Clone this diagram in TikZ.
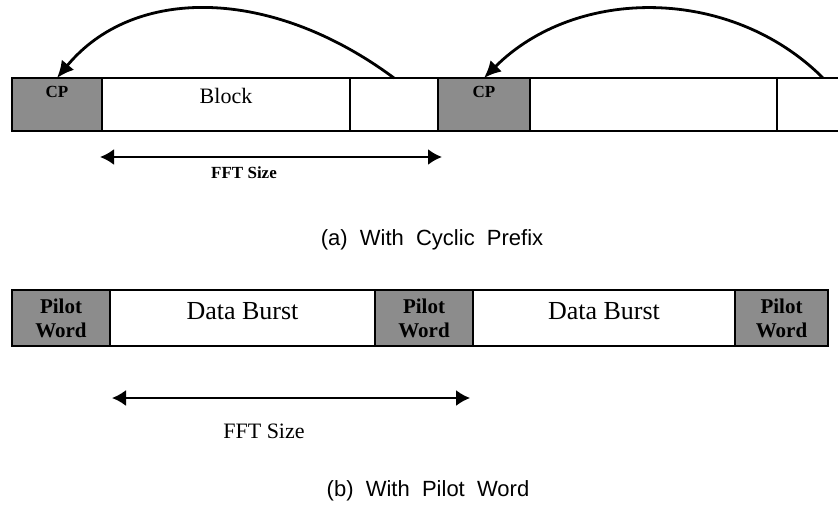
\documentclass[tikz,border=0pt]{standalone}
\usepackage{fontspec}
\setmainfont{Liberation Serif}
\newfontfamily\capfont{Liberation Sans}
\usetikzlibrary{positioning,arrows.meta}
\tikzset{>={Latex[length=17pt,width=16pt]}}

\begin{document}
\begin{tikzpicture}[x=1pt,y=-1pt,%
                    cell/.style={draw,line width=1.4pt,inner sep=0,outer sep=0,minimum height=53pt},
                    shaded/.style={cell,fill=black!45},
                    celltext/.style={font=\fontsize{22}{24}\selectfont},
                    burst/.style={font=\fontsize{26}{28}\selectfont},
                    pilot/.style={font=\bfseries\fontsize{21}{24}\selectfont,align=center},
                    caption/.style={font=\capfont\fontsize{22}{24}\selectfont},
                    hop/.style={->,line width=2.8pt},
                    span/.style={<->,line width=2.2pt,>={Latex[length=14pt,width=16pt]}},
        ]
        \useasboundingbox (0,0) rectangle (838,508);
        \clip (0,0) rectangle (838,508);
%
        % (a) cyclic prefix
        \node[shaded,minimum width=90pt,anchor=north west] (cpa) at (12,78) {};
        \node[cell,minimum width=248pt,right=0pt of cpa] (blocka) {};
        \node[cell,minimum width=88pt,right=0pt of blocka] (taila) {};
        \node[shaded,minimum width=92pt,right=0pt of taila] (cpb) {};
        \node[cell,minimum width=247pt,right=0pt of cpb] (blockb) {};
        \node[cell,minimum width=92pt,right=0pt of blockb] (tailb) {};
        \node[font=\bfseries\fontsize{17}{19}\selectfont] at ([yshift=13pt]cpa.center) {CP};
        \node[font=\bfseries\fontsize{17}{19}\selectfont] at ([yshift=13pt]cpb.center) {CP};
        \node[celltext] at ([yshift=9pt]blocka.center) {Block};
%
        \draw[hop] (taila.north) .. controls +(-124,-92) and +(76,-92) .. (cpa.north);
        \draw[hop] (tailb.north) .. controls +(-92,-92) and +(92,-92) .. (cpb.north);
%
        \coordinate (fa1) at (100,157);
        \coordinate (fa2) at (442,157);
        \draw[span] (fa1) -- (fa2);
        \node[font=\bfseries\fontsize{17}{19}\selectfont] (ffta) at (244,173) {FFT Size};
        \node[caption] (capa) at (432,240) {(a)\ \ With\ \ Cyclic\ \ Prefix};
%
        % (b) pilot word
        \node[shaded,minimum width=98pt,minimum height=56pt,anchor=north west] (pwa) at (12,290) {};
        \node[cell,minimum width=265pt,minimum height=56pt,right=0pt of pwa] (dba) {};
        \node[shaded,minimum width=98pt,minimum height=56pt,right=0pt of dba] (pwb) {};
        \node[cell,minimum width=262pt,minimum height=56pt,right=0pt of pwb] (dbb) {};
        \node[shaded,minimum width=93pt,minimum height=56pt,right=0pt of dbb] (pwc) {};
        \foreach \p in {pwa,pwb,pwc}
            \node[pilot] at (\p.center) {Pilot\\Word};
        \foreach \d in {dba,dbb}
            \node[burst] at ([yshift=7pt]\d.center) {Data Burst};
%
        \coordinate (fb1) at (112,398);
        \coordinate (fb2) at (470,398);
        \draw[span,line width=1.8pt] (fb1) -- (fb2);
        \node[celltext] (fftb) at (264,431) {FFT Size};
        \node[caption] (capb) at (428,491) {(b)\ \ With\ \ Pilot\ \ Word};
    \end{tikzpicture}
\end{document}
